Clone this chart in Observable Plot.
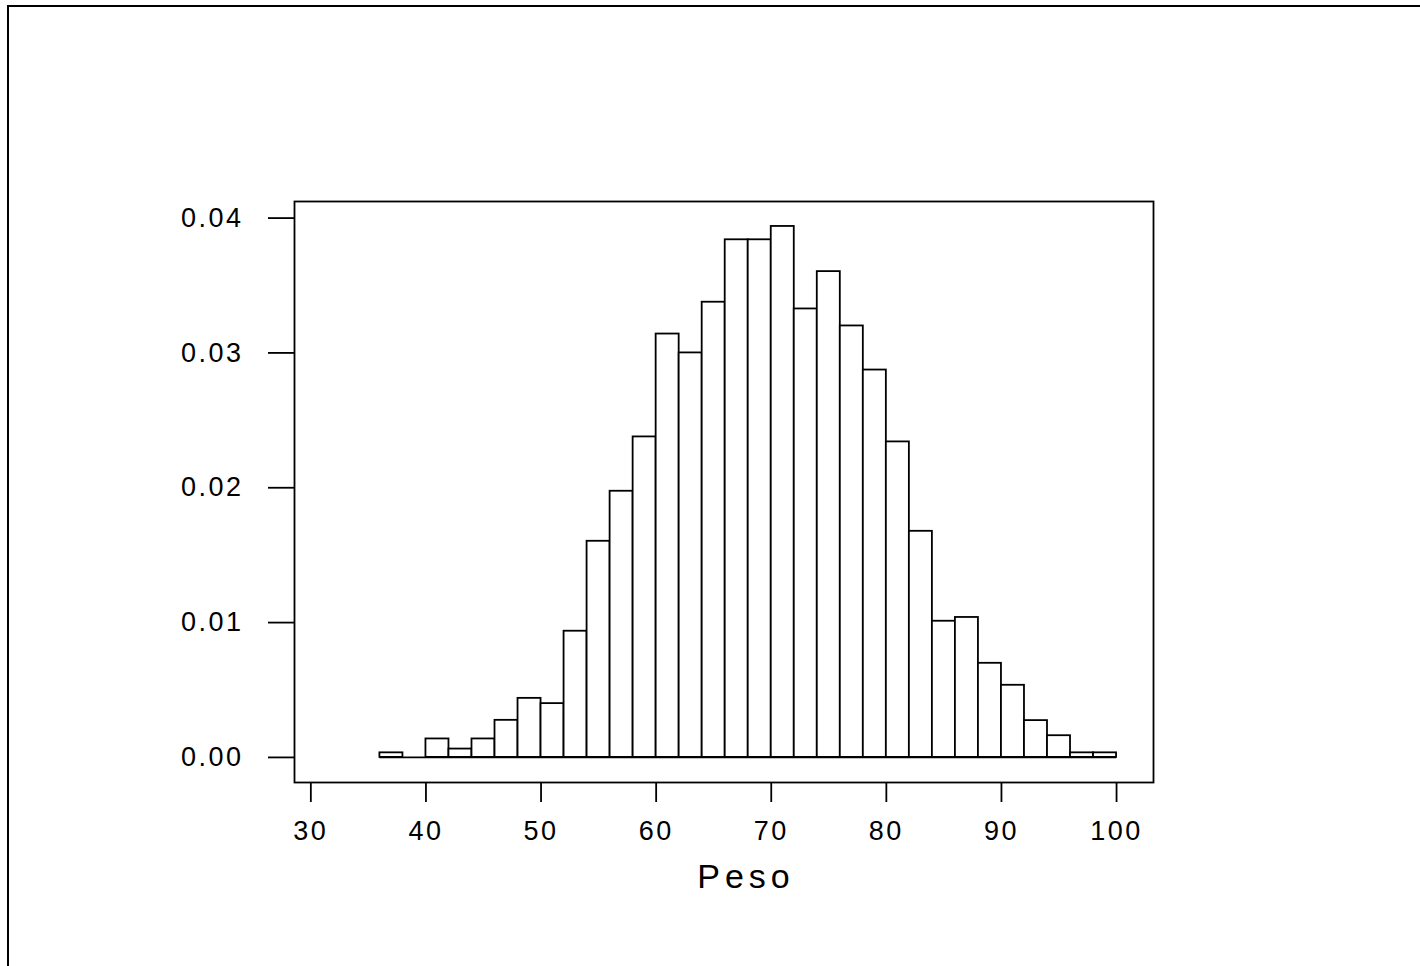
<!DOCTYPE html>
<html><head><meta charset="utf-8">
<script src="https://cdn.jsdelivr.net/npm/d3@7"></script>
<script src="https://cdn.jsdelivr.net/npm/@observablehq/plot@0.6"></script>
<style>
html,body{margin:0;padding:0;background:#fff;overflow:hidden;}
#wrap{position:relative;width:1420px;height:966px;overflow:hidden;}
#border{position:absolute;left:7px;top:5px;width:2000px;height:2000px;border-left:2px solid #000;border-top:2px solid #000;pointer-events:none;}
</style></head><body>
<div id="wrap"><div id="chart"></div><div id="border"></div></div>
<script>
const binStarts = [36,38,40,42,44,46,48,50,52,54,56,58,60,62,64,66,68,70,72,74,76,78,80,82,84,86,88,90,92,94,96,98];
const binWidth = 2;
const densities = [0.00034,0,0.00137,0.00062,0.00137,0.00275,0.00438,0.00399,0.00936,0.01603,0.01974,0.02377,
  0.0314,0.0300,0.03376,0.03839,0.03839,0.03938,0.03326,0.03603,0.0320,0.02873,0.0234,0.01677,
  0.0101,0.01038,0.00698,0.00535,0.00273,0.00161,0.00034,0.00034];
const xTicks = [30,40,50,60,70,80,90,100];
const yTicks = [0,0.01,0.02,0.03,0.04];
const xLabel = "Peso";

const bins = binStarts.map((s, i) => ({x1: s, x2: s + binWidth, y: densities[i]}));
const xMin = binStarts[0], xMax = binStarts[binStarts.length - 1] + binWidth;

const font = "'Liberation Sans', Arial, Helvetica, sans-serif";
const chart = Plot.plot({
  width: 1420, height: 966,
  marginLeft: 294, marginRight: 267, marginTop: 201, marginBottom: 184,
  style: {fontFamily: font, background: "#fff", color: "#000", overflow: "visible"},
  x: {domain: [28.58, 103.21]},
  y: {domain: [-0.00186, 0.04123]},
  marks: [
    Plot.rect(bins, {x1: "x1", x2: "x2", y1: 0, y2: "y", fill: "#fff", stroke: "#000", strokeWidth: 1.8}),
    Plot.ruleY([0], {x1: xMin, x2: xMax, stroke: "#000", strokeWidth: 1.8}),
    Plot.frame({stroke: "#000", strokeWidth: 1.8}),
    Plot.axisX(xTicks, {tickSize: 20, tickPadding: 18, fontSize: 27, strokeWidth: 1.8, label: null}),
    Plot.axisY(yTicks, {tickSize: 26, tickPadding: 25, fontSize: 27, strokeWidth: 1.8, tickFormat: d3.format(".2f"), label: null}),
    Plot.text([xLabel], {frameAnchor: "bottom", dx: 22, dy: 95, lineAnchor: "middle", fontSize: 34, text: d => d})
  ]
});
document.getElementById("chart").appendChild(chart);
d3.select(chart).selectAll("text").each(function() {
  const t = d3.select(this);
  t.style("letter-spacing", this.textContent === xLabel ? "5px" : "2.5px");
});
</script>
</body></html>
